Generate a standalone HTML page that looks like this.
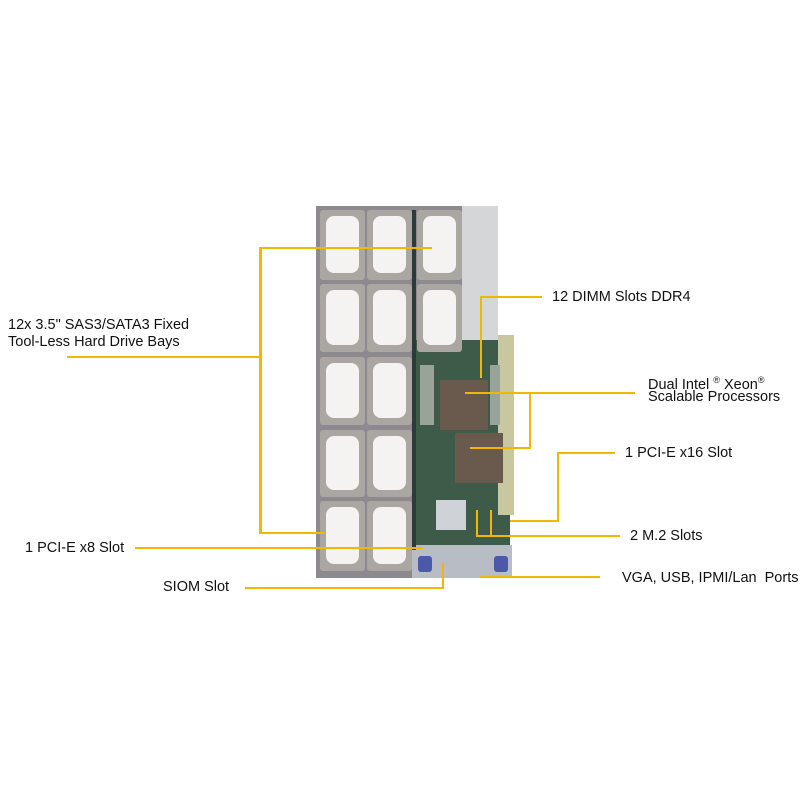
<!DOCTYPE html>
<html><head><style>
body{margin:0;background:#fff;}
.w{position:relative;width:800px;height:800px;overflow:hidden;font-family:"Liberation Sans",sans-serif;color:#111;font-size:14.5px;}
.t{position:absolute;white-space:nowrap;line-height:17px;}
.l{position:absolute;background:#f2b705;}
.d{position:absolute;background:#aaa6a2;border-radius:3px;}
.d i{position:absolute;left:6px;right:6px;top:6px;bottom:7px;background:#f4f3f1;border-radius:8px;}
</style></head><body><div class="w">
<!-- chassis -->
<div style="position:absolute;left:316px;top:206px;width:150px;height:372px;background:#8c8a8e;"></div>
<div style="position:absolute;left:462px;top:206px;width:36px;height:140px;background:#d4d6d8;"></div>
<div style="position:absolute;left:412px;top:340px;width:98px;height:238px;background:#3e5a48;"></div>
<div style="position:absolute;left:498px;top:335px;width:16px;height:180px;background:#c9c7a0;"></div>
<div style="position:absolute;left:420px;top:365px;width:14px;height:60px;background:#9aa39a;"></div>
<div style="position:absolute;left:490px;top:365px;width:10px;height:60px;background:#9aa39a;"></div>
<div style="position:absolute;left:440px;top:380px;width:48px;height:50px;background:#6a5a4e;"></div>
<div style="position:absolute;left:455px;top:433px;width:48px;height:50px;background:#6a5a4e;"></div>
<div style="position:absolute;left:436px;top:500px;width:30px;height:30px;background:#cfd2d6;"></div>
<div style="position:absolute;left:412px;top:545px;width:100px;height:33px;background:#b8bcc4;"></div>
<div style="position:absolute;left:418px;top:556px;width:14px;height:16px;background:#4a5aa8;border-radius:3px;"></div>
<div style="position:absolute;left:494px;top:556px;width:14px;height:16px;background:#4a5aa8;border-radius:3px;"></div>
<div style="position:absolute;left:412px;top:210px;width:4px;height:340px;background:#2d3a3a;"></div>
<!-- drives -->
<div class="d" style="left:320px;top:210px;width:45px;height:70px"><i></i></div>
<div class="d" style="left:367px;top:210px;width:45px;height:70px"><i></i></div>
<div class="d" style="left:417px;top:210px;width:45px;height:70px"><i></i></div>
<div class="d" style="left:320px;top:284px;width:45px;height:68px"><i></i></div>
<div class="d" style="left:367px;top:284px;width:45px;height:68px"><i></i></div>
<div class="d" style="left:417px;top:284px;width:45px;height:68px"><i></i></div>
<div class="d" style="left:320px;top:357px;width:45px;height:68px"><i></i></div>
<div class="d" style="left:367px;top:357px;width:45px;height:68px"><i></i></div>
<div class="d" style="left:320px;top:430px;width:45px;height:67px"><i></i></div>
<div class="d" style="left:367px;top:430px;width:45px;height:67px"><i></i></div>
<div class="d" style="left:320px;top:501px;width:45px;height:70px"><i></i></div>
<div class="d" style="left:367px;top:501px;width:45px;height:70px"><i></i></div>
<!-- lines -->
<div class="l" style="left:259px;top:247px;width:3px;height:287px"></div>
<div class="l" style="left:259px;top:247px;width:173px;height:2px"></div>
<div class="l" style="left:259px;top:532px;width:66px;height:2px"></div>
<div class="l" style="left:67px;top:356px;width:193px;height:2px"></div>
<div class="l" style="left:480px;top:296px;width:62px;height:2px"></div>
<div class="l" style="left:480px;top:296px;width:2px;height:82px"></div>
<div class="l" style="left:465px;top:392px;width:170px;height:2px"></div>
<div class="l" style="left:529px;top:392px;width:2px;height:57px"></div>
<div class="l" style="left:470px;top:447px;width:61px;height:2px"></div>
<div class="l" style="left:557px;top:452px;width:58px;height:2px"></div>
<div class="l" style="left:557px;top:452px;width:2px;height:70px"></div>
<div class="l" style="left:510px;top:520px;width:49px;height:2px"></div>
<div class="l" style="left:476px;top:535px;width:144px;height:2px"></div>
<div class="l" style="left:476px;top:510px;width:2px;height:26px"></div>
<div class="l" style="left:490px;top:510px;width:2px;height:26px"></div>
<div class="l" style="left:480px;top:576px;width:120px;height:2px"></div>
<div class="l" style="left:135px;top:547px;width:288px;height:2px"></div>
<div class="l" style="left:245px;top:587px;width:199px;height:2px"></div>
<div class="l" style="left:442px;top:563px;width:2px;height:26px"></div>
<!-- text -->
<div class="t" style="left:8px;top:317px">12x 3.5" SAS3/SATA3 Fixed</div>
<div class="t" style="left:8px;top:334px">Tool-Less Hard Drive Bays</div>
<div class="t" style="left:552px;top:289px">12 DIMM Slots DDR4</div>
<div class="t" style="left:648px;top:372px">Dual Intel <sup style="font-size:9px">®</sup> Xeon<sup style="font-size:9px">®</sup></div>
<div class="t" style="left:648px;top:389px">Scalable Processors</div>
<div class="t" style="left:625px;top:445px">1 PCI-E x16 Slot</div>
<div class="t" style="left:630px;top:528px">2 M.2 Slots</div>
<div class="t" style="left:622px;top:570px">VGA, USB, IPMI/Lan &nbsp;Ports</div>
<div class="t" style="left:25px;top:540px">1 PCI-E x8 Slot</div>
<div class="t" style="left:163px;top:579px">SIOM Slot</div>
</div></body></html>
